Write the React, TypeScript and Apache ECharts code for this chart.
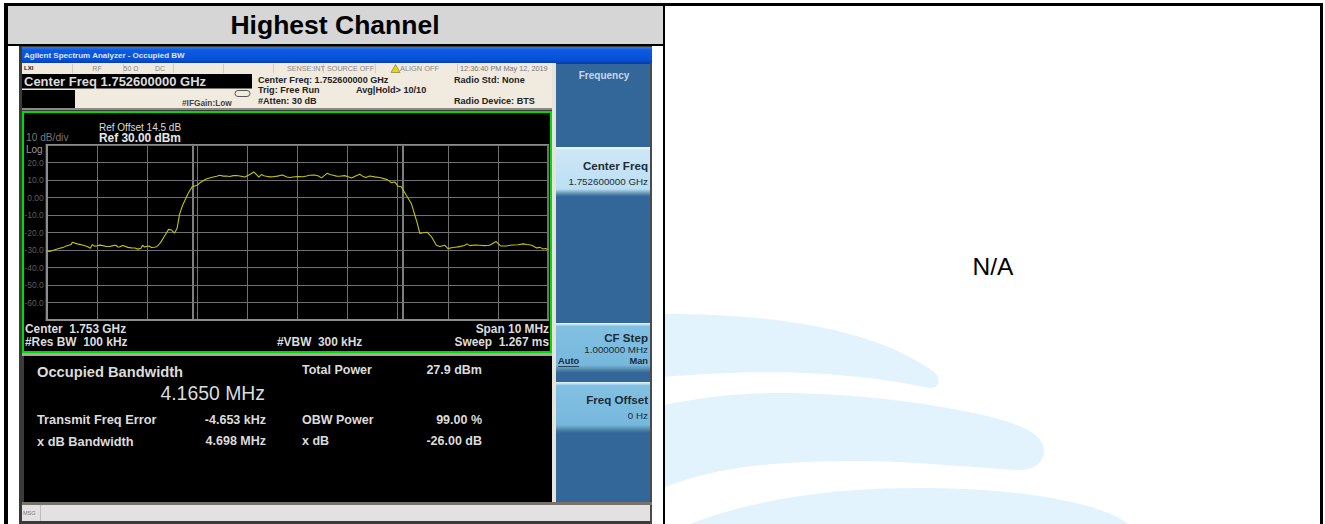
import React, { useEffect, useRef } from "react";
import * as echarts from "echarts";

const freqMHz = [-5.0,-4.94,-4.84,-4.74,-4.67,-4.61,-4.51,-4.49,-4.39,-4.27,-4.19,-4.13,-4.09,-4.05,-4.01,-3.94,-3.88,-3.81,-3.74,-3.68,-3.62,-3.58,-3.54,-3.49,-3.44,-3.38,-3.31,-3.24,-3.18,-3.12,-3.09,-3.05,-3.01,-2.96,-2.91,-2.85,-2.8,-2.73,-2.65,-2.57,-2.51,-2.45,-2.4,-2.35,-2.29,-2.18,-2.1,-2.0,-1.92,-1.82,-1.68,-1.61,-1.55,-1.48,-1.42,-1.35,-1.28,-1.21,-1.15,-1.05,-0.95,-0.87,-0.8,-0.77,-0.72,-0.67,-0.62,-0.55,-0.49,-0.4,-0.3,-0.21,-0.15,-0.09,0.01,0.11,0.18,0.24,0.34,0.41,0.48,0.59,0.65,0.71,0.78,0.84,0.94,1.01,1.08,1.16,1.24,1.3,1.36,1.44,1.54,1.64,1.79,1.87,1.94,2.01,2.07,2.17,2.27,2.34,2.39,2.44,2.5,2.59,2.67,2.77,2.84,2.94,3.0,3.07,3.14,3.2,3.27,3.33,3.38,3.44,3.53,3.63,3.73,3.83,3.96,4.05,4.17,4.24,4.3,4.4,4.5,4.58,4.67,4.77,4.84,4.9,4.95,5.0];
const levelDb = [-30.5,-30.9,-29.9,-29.0,-28.5,-27.7,-26.9,-25.6,-26.5,-27.3,-28.0,-29.0,-26.9,-27.8,-27.7,-27.2,-27.5,-28.0,-28.0,-27.5,-27.3,-28.3,-28.2,-27.4,-27.8,-28.5,-28.8,-28.9,-29.5,-29.0,-27.3,-28.3,-28.0,-27.7,-28.6,-28.4,-28.0,-25.8,-22.0,-18.2,-18.6,-20.3,-17.6,-9.5,-4.4,2.3,6.1,7.0,8.9,10.6,11.7,12.1,12.7,12.2,12.3,12.0,12.5,12.6,12.3,11.7,13.1,14.6,12.7,11.7,13.1,12.4,12.1,11.8,11.9,12.2,12.9,11.7,11.4,11.7,12.0,11.9,12.3,12.7,12.9,12.4,11.2,13.8,13.1,12.7,12.2,12.1,12.5,11.9,11.2,12.3,13.3,12.2,11.4,12.3,11.8,11.4,10.2,8.5,8.9,6.4,6.1,1.3,-3.4,-10.0,-14.8,-20.5,-20.1,-19.9,-22.3,-27.3,-28.0,-27.3,-29.2,-28.7,-28.4,-28.2,-27.8,-27.4,-26.5,-27.5,-27.1,-27.3,-27.5,-27.3,-25.2,-27.7,-27.7,-27.3,-27.1,-27.0,-26.5,-26.9,-27.3,-28.8,-28.5,-29.4,-29.1,-29.9];
const obwMarkersMHz = [-2.09, 2.09];
const yTickLabels: Record<number, string> = { 20: "20.0", 10: "10.0", 0: "0.00", [-10]: "-10.0", [-20]: "-20.0", [-30]: "-30.0", [-40]: "-40.0", [-50]: "-50.0", [-60]: "-60.0" };

const FONT = "'Liberation Sans', Arial, sans-serif";

function t(x: number, y: number, text: string, size: number, fill: string, opts: any = {}) {
  return {
    type: "text", x, y, z: 20,
    style: {
      text, fill, fontSize: size, fontFamily: FONT,
      fontWeight: opts.bold ? "bold" : "normal",
      textAlign: opts.align || "left", textVerticalAlign: "middle",
    },
  };
}
function r(x: number, y: number, w: number, h: number, fill: any, z = 1) {
  return { type: "rect", z, shape: { x, y, width: w, height: h }, style: { fill } };
}
function grad(stops: [number, string][]) {
  return new echarts.graphic.LinearGradient(0, 0, 0, 1, stops.map(([offset, color]) => ({ offset, color })));
}

const blob1 = "M665 314C760 314 870 325 934 372C941 377 941 388 930 388C870 376 790 366 665 377Z";
const blob2 = "M665 405C700 397 740 393 779 393C850 393 930 402 995 418C1025 426 1044 436 1044 450C1044 464 1032 471 1016 470C960 466 900 461 857 461C780 461 720 466 665 487Z";
const blob3 = "M690 524C760 497 840 488 917 488C1020 488 1100 502 1128 524Z";
echarts.graphic.registerShape("wm1", echarts.graphic.extendPath(blob1, {}) as any);
echarts.graphic.registerShape("wm2", echarts.graphic.extendPath(blob2, {}) as any);
echarts.graphic.registerShape("wm3", echarts.graphic.extendPath(blob3, {}) as any);

function softKey(y: number, h: number, light: string, mid: string) {
  return r(556, y, 94, h, grad([[0, "#f0f8fd"], [0.07, light], [0.84, mid], [0.96, "#44799f"], [1, "#336699"]]), 2);
}

export default function App() {
  const ref = useRef<HTMLDivElement>(null);
  useEffect(() => {
    const chart = echarts.init(ref.current!, undefined, { renderer: "svg" });
    const dark = "#222222";
    const lite = "#dcdcdc";
    const elements: any[] = [
      // table
      r(665, 46, 656, 478, "#ffffff", 0),
      { type: "wm1", z: 1, style: { fill: "#e3f3fd" } },
      { type: "wm2", z: 1, style: { fill: "#e3f3fd" } },
      { type: "wm3", z: 1, style: { fill: "#e3f3fd" } },
      r(8, 6, 655, 38, "#d6d6d6"),
      r(4, 3, 1319, 3, "#000000", 3),
      r(4, 3, 4, 521, "#000000", 3),
      r(8, 44, 655, 2, "#000000", 3),
      r(663, 6, 2, 518, "#000000", 3),
      r(1320, 3, 3, 521, "#000000", 3),
      t(335, 25, "Highest Channel", 26.5, "#000000", { bold: true, align: "center" }),
      t(993, 266, "N/A", 24.5, "#000000", { align: "center" }),
      // screen frame
      r(19, 46, 633, 478, "#3a3a3a"),
      r(22, 47, 630, 16, grad([[0, "#2c7cf0"], [0.2, "#0c5be0"], [0.8, "#0750d8"], [1, "#063fb0"]]), 2),
      t(24, 55.5, "Agilent Spectrum Analyzer - Occupied BW", 8, "#dfe8ff", { bold: true }),
      r(552, 63, 4, 439, "#e6e3da", 2),
      r(650, 63, 2, 461, "#4a4a4a", 2),
      // header
      r(22, 63, 530, 45, "#f0eadf", 2),
      r(22, 108, 530, 2, "#8a8a84", 2),
      r(22, 74, 230, 14.5, "#000000", 3),
      r(22, 90, 53, 18, "#000000", 3),
      ...[72, 123, 173, 223, 273, 323, 375, 457].map((x) => r(x, 64, 0.7, 9, "#c4c0b6", 3)),
      t(24, 68, "LXI", 6, "#222222", { bold: true }),
      t(97, 68.5, "RF", 7, "#888888", { align: "center" }),
      t(131, 68.5, "50 Ω", 7, "#888888", { align: "center" }),
      t(160, 68.5, "DC", 7, "#888888", { align: "center" }),
      t(287, 68.5, "SENSE:INT", 7.2, "#888888"),
      t(327, 68.5, "SOURCE OFF", 7.2, "#888888"),
      { type: "polygon", z: 4, shape: { points: [[395.5, 64.5], [391, 72.5], [400, 72.5]] }, style: { fill: "#e6d800", stroke: "#555555", lineWidth: 0.5 } },
      t(400, 68.5, "ALIGN OFF", 7.4, "#888888"),
      t(460, 68.5, "12:36:40 PM May 12, 2019", 7.3, "#777777"),
      t(24, 81.5, "Center Freq 1.752600000 GHz", 13, lite, { bold: true }),
      t(182, 102.5, "#IFGain:Low", 8.3, "#444444", { bold: true }),
      { type: "rect", z: 4, shape: { x: 235, y: 90.5, width: 15, height: 6, r: 3 }, style: { fill: "none", stroke: "#333333", lineWidth: 0.8 } },
      t(258, 79.5, "Center Freq: 1.752600000 GHz", 9.1, dark, { bold: true }),
      t(258, 90, "Trig: Free Run", 9.1, dark, { bold: true }),
      t(258, 101, "#Atten: 30 dB", 9.1, dark, { bold: true }),
      t(356, 90, "Avg|Hold> 10/10", 9.1, dark, { bold: true }),
      t(454, 79.5, "Radio Std: None", 9.1, dark, { bold: true }),
      t(454, 101, "Radio Device: BTS", 9.1, dark, { bold: true }),
      // plot frame
      r(22, 111, 530, 242, "#00dc00", 2),
      r(24, 113, 526, 238, "#000000", 3),
      t(26, 137, "10 dB/div", 10.2, "#777777"),
      t(26, 149, "Log", 10, "#999999"),
      t(99, 127, "Ref Offset 14.5 dB", 10, lite),
      t(99, 138, "Ref 30.00 dBm", 11.9, "#e8e8e8", { bold: true }),
      t(25, 328.5, "Center  1.753 GHz", 11.9, lite, { bold: true }),
      t(25, 342, "#Res BW  100 kHz", 11.9, lite, { bold: true }),
      t(277, 342, "#VBW  300 kHz", 11.9, lite, { bold: true }),
      t(549, 328.5, "Span 10 MHz", 11.9, lite, { bold: true, align: "right" }),
      t(549, 342, "Sweep  1.267 ms", 11.9, lite, { bold: true, align: "right" }),
      // results
      r(22, 353, 530, 3, "#a8a8a0", 2),
      r(24, 356, 528, 146, "#000000", 2),
      t(37, 371.5, "Occupied Bandwidth", 14.7, lite, { bold: true }),
      t(265, 393, "4.1650 MHz", 19.4, lite, { align: "right" }),
      t(37, 419.5, "Transmit Freq Error", 12.8, lite, { bold: true }),
      t(37, 441, "x dB Bandwidth", 12.8, lite, { bold: true }),
      t(266, 419.5, "-4.653 kHz", 12.5, lite, { bold: true, align: "right" }),
      t(266, 441, "4.698 MHz", 12.5, lite, { bold: true, align: "right" }),
      t(302, 370, "Total Power", 12.5, lite, { bold: true }),
      t(302, 419.5, "OBW Power", 12.5, lite, { bold: true }),
      t(302, 441, "x dB", 12.5, lite, { bold: true }),
      t(482, 370, "27.9 dBm", 12.5, lite, { bold: true, align: "right" }),
      t(482, 419.5, "99.00 %", 12.5, lite, { bold: true, align: "right" }),
      t(482, 441, "-26.00 dB", 12.5, lite, { bold: true, align: "right" }),
      // message bar
      r(22, 502, 630, 3, "#77736a", 2),
      r(22, 505, 628, 16, "#e4e1e2", 2),
      r(40, 505, 0.7, 16, "#b0b0b0", 3),
      t(23, 512.5, "MSG", 5.5, "#777777"),
      // softkey panel
      r(556, 64, 94, 438, "#336699", 2),
      softKey(147, 50, "#cde6f6", "#bcdff3"),
      softKey(323, 50, "#82c0e2", "#76b8dc"),
      softKey(382, 51, "#82c0e2", "#76b8dc"),
      t(604, 75.5, "Frequency", 10, "#c8d8e8", { bold: true, align: "center" }),
      t(648, 165, "Center Freq", 11.6, "#1c2b38", { bold: true, align: "right" }),
      t(648, 181, "1.752600000 GHz", 9.8, "#1c2b38", { align: "right" }),
      t(648, 337, "CF Step", 11.6, "#1c2b38", { bold: true, align: "right" }),
      t(648, 349, "1.000000 MHz", 9.8, "#1c2b38", { align: "right" }),
      t(558, 361, "Auto", 9.3, "#1c2b38", { bold: true }),
      r(558, 366, 21, 0.8, "#1c2b38", 21),
      t(648, 361, "Man", 9.3, "#1c2b38", { bold: true, align: "right" }),
      t(648, 399.5, "Freq Offset", 11.6, "#1c2b38", { bold: true, align: "right" }),
      t(648, 415.5, "0 Hz", 9.8, "#1c2b38", { align: "right" }),
    ];
    chart.setOption({
      animation: false,
      backgroundColor: "#ffffff",
      textStyle: { fontFamily: FONT },
      graphic: { elements },
      grid: { left: 46.7, top: 145, width: 501.5, height: 175, show: true, z: 30, backgroundColor: "transparent", borderColor: "#8c8c8c", borderWidth: 2 },
      xAxis: {
        type: "value", min: -5, max: 5, interval: 1, z: 30,
        axisLabel: { show: false }, axisTick: { show: false },
        axisLine: { show: true, onZero: false, lineStyle: { color: "#8c8c8c", width: 2 } },
        splitLine: { show: true, lineStyle: { color: "#707070", width: 1 } },
      },
      yAxis: {
        type: "value", min: -70, max: 30, interval: 10, z: 30,
        axisTick: { show: false },
        axisLine: { show: true, onZero: false, lineStyle: { color: "#8c8c8c", width: 2 } },
        splitLine: { show: true, lineStyle: { color: "#707070", width: 1 } },
        axisLabel: {
          show: true, margin: 3, fontSize: 8.5, color: "#5e5e5e", fontFamily: FONT,
          formatter: (v: number) => yTickLabels[v] ?? "",
        },
      },
      series: [
        {
          type: "line", z: 32, symbol: "none", silent: true,
          data: freqMHz.map((f, i) => [f, levelDb[i]]),
          lineStyle: { color: "#c4c400", width: 1.1 },
          markLine: {
            silent: true, animation: false, symbol: ["none", "circle"], symbolSize: 2.5,
            label: { show: false },
            lineStyle: { color: "#a8a8a8", width: 1.5, type: "solid" },
            data: obwMarkersMHz.map((x) => ({ xAxis: x })),
          },
        },
      ],
    });
    return () => chart.dispose();
  }, []);
  return <div ref={ref} style={{ position: "fixed", left: 0, top: 0, width: 1325, height: 524 }} />;
}
